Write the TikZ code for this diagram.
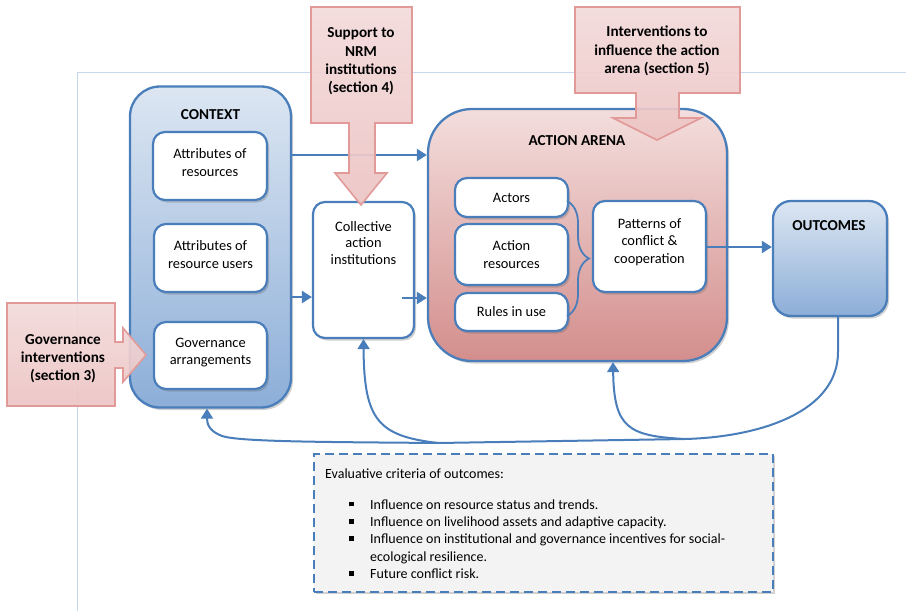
\documentclass[tikz,border=0pt]{standalone}
\usepackage{fontspec}
\setmainfont{Carlito}
\usetikzlibrary{arrows.meta,shadows,decorations.pathreplacing,calc}
\definecolor{bord}{HTML}{4A7EBB}
\definecolor{framec}{HTML}{C6D7EC}
\definecolor{ctxtop}{HTML}{DCE6F2}
\definecolor{ctxbot}{HTML}{8CAED8}
\definecolor{arntop}{HTML}{F3DEDD}
\definecolor{arnbot}{HTML}{D38E8C}
\definecolor{calltop}{HTML}{F3DADA}
\definecolor{callbot}{HTML}{ECC4C3}
\definecolor{callbord}{HTML}{E29A99}
\definecolor{evalfill}{HTML}{F3F3F3}
\tikzset{
  shad/.style={drop shadow={shadow xshift=2pt,shadow yshift=-2.5pt,opacity=0.3,fill=black!60}},
  bigbox/.style={draw=bord,line width=2.3pt,shad,minimum width=#1},
  wbox/.style={draw=bord,line width=2.2pt,fill=white,rounded corners=12pt,shad,align=center,
    font=\fontsize{14.4}{17.3}\selectfont,inner sep=0pt},
  ttl/.style={font=\bfseries\fontsize{15.2}{18.3}\selectfont,align=center},
  txt/.style={font=\fontsize{14.4}{16.8}\selectfont,align=center},
  conn/.style={draw=bord,line width=2.2pt,-{Triangle[length=10pt,width=12pt]}},
  fb/.style={draw=bord,line width=2pt},
  callout/.style={draw=callbord,line width=1.6pt,top color=calltop,bottom color=callbot,fill opacity=0.92},
}
\begin{document}
\begin{tikzpicture}[x=1pt,y=-1pt]
\useasboundingbox (0,0) rectangle (906,611);
% frame
\draw[framec,line width=1pt] (906,72) -- (77,72) -- (77,611);

% context
\node[bigbox=161pt,minimum height=321pt,rounded corners=30pt,top color=ctxtop,bottom color=ctxbot] (ctx) at (210.5,247) {};
\node[ttl] (ctxt) at (210.5,114.5) {CONTEXT};
\node[wbox,minimum width=114pt,minimum height=68pt] (ar) at (210,166) {Attributes of\\resources\\[-10pt]};
\node[wbox,minimum width=113pt,minimum height=68pt] (aru) at (210.5,258) {Attributes of\\resource users\\[-10pt]};
\node[wbox,minimum width=113pt,minimum height=67pt] (ga) at (210.5,355.5) {Governance\\arrangements\\[-9pt]};

% collective
\node[wbox,minimum width=101pt,minimum height=136pt] (col) at (363.5,270) {};
\node[txt] (colt) at (363.5,243) {Collective\\action\\institutions};

% action arena
\node[bigbox=299pt,minimum height=252pt,rounded corners=44pt,top color=arntop,bottom color=arnbot] (arena) at (577.5,235) {};
\node[ttl] (arenat) at (577,141) {ACTION ARENA};
\node[wbox,minimum width=113pt,minimum height=39pt] (act) at (511.5,197.5) {Actors};
\node[wbox,minimum width=113pt,minimum height=61pt] (ares) at (511.5,254.5) {Action\\resources};
\node[wbox,minimum width=113pt,minimum height=38pt] (rules) at (511.5,312) {Rules in use};
\node[wbox,minimum width=113pt,minimum height=91pt] (pat) at (649.5,246.5) {Patterns of\\conflict \&\\cooperation\\[-6pt]};
\draw[bord,line width=1.8pt,decorate,decoration={brace,amplitude=22pt}] (567,201) -- (567,316);

% outcomes
\node[bigbox=114pt,minimum height=115pt,rounded corners=18pt,top color=ctxtop,bottom color=ctxbot] (out) at (830,258.5) {};
\node[ttl] (outt) at (829,226) {OUTCOMES};

% connectors
\draw[conn] (ctx.east |- 0,155) -- (arena.west |- 0,155);
\draw[conn] (ctx.east |- 0,297) -- (col.west |- 0,297);
\draw[conn] ([xshift=-13pt]col.east |- 0,298) -- (arena.west |- 0,298);
\draw[conn] (pat.east |- 0,247) -- (out.west |- 0,247);

% feedback
\coordinate (j1) at (685,439);
\coordinate (j2) at (438,443);
\draw[fb,-{Triangle[length=10pt,width=12pt]}] ([xshift=8pt]out.south) -- (838,352)
  .. controls (838,412) and (760,437) .. (j1) -- (j2)
  .. controls (330,442) and (240,442) .. (222,436)
  .. controls (209,431) and (207,424) .. ([xshift=-3.5pt]ctx.south);
\draw[fb,-{Triangle[length=10pt,width=12pt]}] (j1) .. controls (628,436) and (614,428) .. ([xshift=35.5pt]arena.south);
\draw[fb,-{Triangle[length=10pt,width=12pt]}] (j2) .. controls (378,436) and (364,420) .. (col.south);

% evaluative box
\node[draw=bord,line width=2pt,dash pattern=on 9pt off 5pt,fill=evalfill,shad,minimum width=459pt,minimum height=138pt] (eval) at (543.5,522.5) {};
\node[anchor=north west,inner sep=0pt,font=\fontsize{14}{17.3}\selectfont] (evalt) at (325,466.5) {%
\begin{tabular}{@{}p{24pt}@{}p{21pt}@{}l@{}}
\multicolumn{3}{@{}l@{}}{Evaluative criteria of outcomes:}\\[13pt]
 & \rule[2.8pt]{4.5pt}{4.5pt} & Influence on resource status and trends.\\
 & \rule[2.8pt]{4.5pt}{4.5pt} & Influence on livelihood assets and adaptive capacity.\\
 & \rule[2.8pt]{4.5pt}{4.5pt} & Influence on institutional and governance incentives for social-\\
 & & ecological resilience.\\
 & \rule[2.8pt]{4.5pt}{4.5pt} & Future conflict risk.
\end{tabular}};

% callouts
\path[callout] (311,7) -- (412,7) -- (412,123) -- (375,123) -- (375,173) -- (387,173) -- (361,205) -- (335,173) -- (349,173) -- (349,123) -- (311,123) -- cycle;
\node[ttl] (supt) at (361,61.5) {Support to\\NRM\\institutions\\(section 4)};
\path[callout] (575,7) -- (740,7) -- (740,93) -- (679,93) -- (679,118) -- (701,118) -- (657,140) -- (613,118) -- (636,118) -- (636,93) -- (575,93) -- cycle;
\node[ttl] (intt) at (657,51) {Interventions to\\influence the action\\arena (section 5)};
\path[callout] (7,303) -- (115,303) -- (115,342) -- (123,342) -- (123,328) -- (146,355) -- (123,382) -- (123,368) -- (115,368) -- (115,406) -- (7,406) -- cycle;
\node[ttl] (govt) at (63,358.5) {Governance\\interventions\\(section 3)};
\end{tikzpicture}
\end{document}
